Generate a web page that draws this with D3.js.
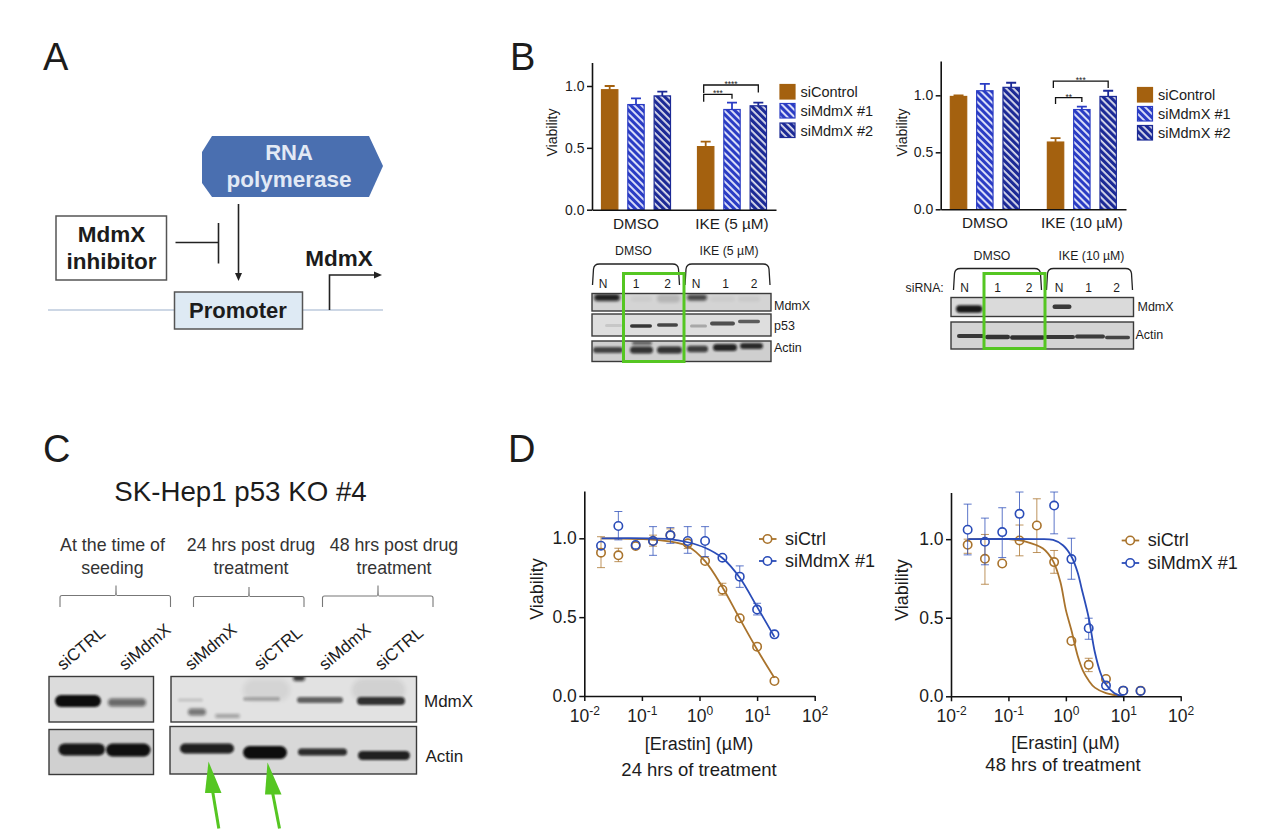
<!DOCTYPE html>
<html>
<head>
<meta charset="utf-8">
<script src="https://cdn.jsdelivr.net/npm/d3@7/dist/d3.min.js"></script>
<style>
html,body{margin:0;padding:0;background:#fff}
svg{display:block}
text{font-family:"Liberation Sans",Arial,sans-serif;fill:#1c1c1c}
</style>
</head>
<body>
<svg id="fig" width="1280" height="839"></svg>
<script>
// ---------- data: panel B bars ----------
const barGroups5 = ["DMSO", "IKE (5 µM)"];
const barGroups10 = ["DMSO", "IKE (10 µM)"];
const barSeries = ["siControl", "siMdmX #1", "siMdmX #2"];
const barTicks = [0, 0.5, 1];
const viab5Mean = [[0.97, 0.85, 0.92], [0.51, 0.81, 0.84]];
const viab5Top = [[1.0, 0.90, 0.955], [0.55, 0.865, 0.865]];
const viab10Mean = [[0.99, 1.04, 1.07], [0.59, 0.875, 0.99]];
const viab10Top = [[1.0, 1.10, 1.11], [0.625, 0.90, 1.04]];
const brackets5 = [["****", 2, 1.008], ["***", 1, 0.933]];
const brackets10 = [["***", 2, 1.125], ["**", 1, 0.98]];

// ---------- data: panel D dose response ----------
const doses = [0.0195, 0.039, 0.078, 0.156, 0.3125, 0.625, 1.25, 2.5, 5, 10, 20];
const doseTicks = [0.01, 0.1, 1, 10, 100];
const doseExp = ["-2", "-1", "0", "1", "2"];
const viabTicks = [0, 0.5, 1];
const d24Ctrl = [0.909, 0.892, 0.951, 0.983, 1.02, 0.968, 0.856, 0.674, 0.493, 0.313, 0.095];
const d24CtrlHi = [1.01, 0.937, 0.97, 1.02, 1.06, 1.0, 0.875, 0.715, 0.505, 0.325, 0.105];
const d24CtrlLo = [0.814, 0.852, 0.935, 0.95, 0.99, 0.935, 0.84, 0.64, 0.48, 0.3, 0.085];
const d24Mdm = [0.953, 1.078, 0.958, 0.983, 1.019, 0.983, 0.983, 0.877, 0.757, 0.548, 0.391];
const d24MdmHi = [0.975, 1.17, 0.98, 1.074, 1.068, 1.074, 1.074, 0.89, 0.825, 0.588, 0.405];
const d24MdmLo = [0.935, 0.99, 0.935, 0.892, 0.968, 0.905, 0.884, 0.865, 0.689, 0.514, 0.38];
const d24CtrlFitX = [0.02, 0.1, 0.3, 0.625, 1.25, 2.5, 5, 10, 20];
const d24CtrlFitY = [1.0, 0.995, 0.98, 0.95, 0.855, 0.69, 0.49, 0.295, 0.115];
const d24MdmFitX = [0.02, 0.3, 0.625, 1.25, 2.5, 5, 10, 20];
const d24MdmFitY = [1.0, 0.995, 0.975, 0.94, 0.875, 0.75, 0.565, 0.375];

const d48Ctrl = [0.964, 0.875, 0.845, 0.992, 1.087, 0.854, 0.352, 0.2, 0.11, 0.036, 0.036];
const d48CtrlHi = [1.0, 1.03, 0.86, 1.09, 1.257, 0.928, 0.365, 0.242, 0.125, 0.045, 0.045];
const d48CtrlLo = [0.91, 0.713, 0.83, 0.894, 0.915, 0.783, 0.34, 0.157, 0.095, 0.028, 0.028];
const d48Mdm = [1.06, 0.983, 1.045, 1.161, null, 1.214, 0.873, 0.433, 0.068, 0.036, 0.034];
const d48MdmHi = [1.223, 1.134, 1.2, 1.3, null, 1.3, 1.006, 0.497, 0.08, 0.045, 0.045];
const d48MdmLo = [0.9, 0.837, 0.883, 1.0, null, 1.034, 0.745, 0.363, 0.055, 0.028, 0.025];
const d48CtrlFitX = [0.02, 0.1, 0.2, 0.4, 0.6, 0.8, 1, 1.25, 1.6, 2, 2.5, 3.2, 5, 10];
const d48CtrlFitY = [1.0, 1.0, 0.985, 0.94, 0.86, 0.73, 0.55, 0.42, 0.26, 0.16, 0.10, 0.055, 0.02, 0];
const d48MdmFitX = [0.02, 0.3, 0.6, 0.9, 1.25, 1.6, 1.9, 2.5, 3.2, 4, 5, 7, 10];
const d48MdmFitY = [1.0, 1.0, 0.995, 0.96, 0.89, 0.79, 0.68, 0.5, 0.28, 0.15, 0.075, 0.02, 0];
const doseSeries = ["siCtrl", "siMdmX #1"];

// ---------- data: blot labels and band strengths ----------
const lanesB = ["N", "1", "2", "N", "1", "2"];
const lanesC = ["siCTRL", "siMdmX", "siMdmX", "siCTRL", "siMdmX", "siCTRL"];
const headersC = [["At the time of", "seeding"], ["24 hrs post drug", "treatment"], ["48 hrs post drug", "treatment"]];
const b5MdmX = [0.9, 0.04, 0.15, 0.72, 0.04, 0.05];
const b5P53 = [0.1, 0.8, 0.72, 0.25, 0.68, 0.62];
const b5Actin = [0.72, 0.8, 0.8, 0.75, 0.88, 0.85];
const b10MdmX = [0.95, 0.78];
const b10Actin = [0.78, 0.8, 0.82, 0.78, 0.76, 0.72];
const cMdmXLeft = [1, 0.55];
const cActinLeft = [0.95, 0.98];
const cMdmXRight = [0.14, 0.5, 0.3, 0.25, 0.6, 0.82];
const cActin = [0.9, 1, 0.85, 0.9];

// ---------- palette ----------
const BROWN = "#a4610f", BLUE = "#2a3cc4", NAVY = "#1c2a96";
const LBROWN = "#a9732c", LBLUE = "#2a4cb8", GREEN = "#55c622";
const svg = d3.select("#fig");
const defs = svg.append("defs");

function hatch(id, bg, fg, w) {
  const p = defs.append("pattern").attr("id", id).attr("patternUnits", "userSpaceOnUse")
    .attr("width", 5).attr("height", 5).attr("patternTransform", "rotate(-45)");
  p.append("rect").attr("width", 5).attr("height", 5).attr("fill", bg);
  p.append("rect").attr("width", w).attr("height", 5).attr("fill", fg);
}
hatch("h1", "#d8dcf8", "#2a3cc4", 3.0);
hatch("h2", "#dfe0ee", "#1c2a96", 3.2);
[["blurS", 1.0], ["blurM", 1.6], ["blurL", 2.8], ["soft", 0.7]].forEach(([id, s]) => {
  defs.append("filter").attr("id", id).attr("filterUnits", "userSpaceOnUse")
    .attr("x", 0).attr("y", 0).attr("width", 1280).attr("height", 839)
    .append("feGaussianBlur").attr("stdDeviation", s);
});

function label(g, x, y, txt, size, anchor, weight, fill) {
  const t = g.append("text").attr("x", x).attr("y", y).attr("font-size", size)
    .attr("text-anchor", anchor || "start").text(txt);
  if (weight) t.attr("font-weight", weight);
  if (fill) t.style("fill", fill);
  return t;
}
function vlabel(g, x, y, txt, size) {
  g.append("text").attr("transform", `translate(${x},${y}) rotate(-90)`).attr("font-size", size)
    .attr("text-anchor", "middle").text(txt);
}
const letters = [["A", 43, 70], ["B", 510, 70], ["C", 43, 462], ["D", 508, 462]];
letters.forEach(([t, x, y]) => label(svg, x, y, t, 38));

// ---------- Panel A ----------
const A = svg.append("g");
A.append("line").attr("x1", 48).attr("x2", 383).attr("y1", 310).attr("y2", 310).attr("stroke", "#bccadd").attr("stroke-width", 1.5);
A.append("polygon").attr("points", "202,152 212,136 369,136 383,166 369,197 212,197 202,183").attr("fill", "#4a6fb0");
label(A, 289, 160, "RNA", 22, "middle", "bold", "#e2e9f5");
label(A, 289, 187, "polymerase", 22.5, "middle", "bold", "#e2e9f5");
A.append("rect").attr("x", 56).attr("y", 216).attr("width", 110.5).attr("height", 64).attr("fill", "#fff").attr("stroke", "#555").attr("stroke-width", 1.5);
label(A, 111.5, 241.5, "MdmX", 22.5, "middle", "bold");
label(A, 111.5, 269, "inhibitor", 22.5, "middle", "bold");
A.append("path").attr("d", "M175.5,242.5H218.5M218.5,223V263.5").attr("fill", "none").attr("stroke", "#222").attr("stroke-width", 1.6);
A.append("path").attr("d", "M238.5,204V274").attr("stroke", "#222").attr("stroke-width", 1.6);
A.append("path").attr("d", "M235,273L242,273L238.5,281Z").attr("fill", "#222");
A.append("rect").attr("x", 174.5).attr("y", 292).attr("width", 128).attr("height", 37).attr("fill", "#deeaf4").attr("stroke", "#555").attr("stroke-width", 1.5);
label(A, 238, 318, "Promoter", 22, "middle", "bold");
A.append("path").attr("d", "M329.5,310V275H375").attr("fill", "none").attr("stroke", "#222").attr("stroke-width", 1.6);
A.append("path").attr("d", "M374,271.5L382,275L374,278.5Z").attr("fill", "#222");
label(A, 339, 266, "MdmX", 22.5, "middle", "bold");

// ---------- Panel B bars ----------
function barChart(cfg) {
  const g = svg.append("g");
  const y = d3.scaleLinear().domain([0, cfg.top]).range([cfg.y0, cfg.yTop]);
  const x0 = d3.scaleBand().domain(cfg.groups).range([cfg.xL, cfg.xR]).paddingInner(0.2).paddingOuter(cfg.pad);
  const x1 = d3.scaleBand().domain(barSeries).range([-35, 35]).paddingInner(0.34);
  const fills = [BROWN, "url(#h1)", "url(#h2)"], strokes = [BROWN, BLUE, NAVY];
  cfg.groups.forEach((grp, gi) => {
    const cx = x0(grp) + x0.bandwidth() / 2;
    barSeries.forEach((s, si) => {
      const bx = cx + x1(s), bc = bx + x1.bandwidth() / 2;
      const v = cfg.mean[gi][si], t = cfg.tops[gi][si];
      g.append("path").attr("d", `M${bc - 5},${y(t)}H${bc + 5}M${bc},${y(t)}V${y(v)}`)
        .attr("fill", "none").attr("stroke", strokes[si]).attr("stroke-width", 1.8);
      g.append("rect").attr("x", bx + 0.5).attr("y", y(v)).attr("width", x1.bandwidth() - 1).attr("height", y(0) - y(v))
        .attr("fill", fills[si]).attr("stroke", strokes[si]).attr("stroke-width", 1.2);
    });
  });
  // significance brackets
  const grp = cfg.groups[1], cx = x0(grp) + x0.bandwidth() / 2;
  const c = i => cx + x1(barSeries[i]) + x1.bandwidth() / 2;
  cfg.brackets.forEach(([stars, to, lvl], i) => {
    const yy = y(lvl), xa = c(0) - cfg.bOff[i], xb = c(to);
    g.append("path").attr("d", `M${xa},${yy + cfg.dropL[i]}V${yy}H${xb}V${yy + cfg.dropR[i]}`)
      .attr("fill", "none").attr("stroke", "#111").attr("stroke-width", 1.3);
    label(g, (xa + xb) / 2, yy + 2, stars, 8.5, "middle");
  });
  // axes
  const ay = d3.axisLeft(y).tickValues(barTicks).tickFormat(d3.format(".1f")).tickSize(5).tickSizeOuter(0).tickPadding(2.5);
  const gy = g.append("g").attr("transform", `translate(${cfg.xL},0)`).call(ay);
  gy.selectAll("text").attr("font-size", 14).style("font-family", '"Liberation Sans"');
  const ax = d3.axisBottom(x0).tickSize(0).tickSizeOuter(0).tickPadding(8);
  const gx = g.append("g").attr("transform", `translate(0,${cfg.y0})`).call(ax);
  gx.selectAll("text").attr("font-size", 15.3).style("font-family", '"Liberation Sans"');
  g.selectAll(".domain").attr("stroke", "#111").attr("stroke-width", 1.6);
  g.selectAll(".tick line").attr("stroke", "#111").attr("stroke-width", 1.5);
  vlabel(g, cfg.labX, 132.5, "Viability", 14);
  // legend
  barSeries.forEach((s, i) => {
    const ly = cfg.legY[i];
    g.append("rect").attr("x", cfg.legX).attr("y", ly).attr("width", 15).attr("height", 14.5)
      .attr("fill", fills[i]).attr("stroke", strokes[i]).attr("stroke-width", 1.2);
    label(g, cfg.legX + 20.5, ly + 12.5, s, 14.5);
  });
}
barChart({groups: barGroups5, mean: viab5Mean, tops: viab5Top, brackets: brackets5, top: 1.19, y0: 209.7, yTop: 62.5,
  xL: 592, xR: 776, pad: 0.0583, labX: 557, legX: 780, legY: [84.5, 103.5, 123],
  bOff: [2, 2], dropL: [8, 7.5], dropR: [7.5, 4.5]});
barChart({groups: barGroups10, mean: viab10Mean, tops: viab10Top, brackets: brackets10, top: 1.301, y0: 209.3, yTop: 61,
  xL: 940.7, xR: 1126, pad: 0.055, labX: 906.5, legX: 1137.5, legY: [87.5, 106.5, 125.5],
  bOff: [2.2, 0], dropL: [7, 6.5], dropR: [7, 4.5]});

// ---------- blots ----------
let clipN = 0;
function panel(x, y, w, h, shade, edge) {
  const id = "cp" + (clipN++);
  defs.append("clipPath").attr("id", id).append("rect").attr("x", x).attr("y", y).attr("width", w).attr("height", h);
  const o = svg.append("g");
  o.append("rect").attr("x", x).attr("y", y).attr("width", w).attr("height", h).attr("fill", shade);
  const inner = o.append("g").attr("clip-path", `url(#${id})`);
  o.append("rect").attr("x", x).attr("y", y).attr("width", w).attr("height", h).attr("fill", "none")
    .attr("stroke", edge || "#3a3a3a").attr("stroke-width", 1.4);
  return inner;
}
function band(p, x0, x1, cy, h, s, blur) {
  p.append("rect").attr("x", x0).attr("y", cy - h / 2).attr("width", x1 - x0).attr("height", h)
    .attr("rx", Math.min(h / 2, (x1 - x0) / 2)).attr("fill", "#0c0c0c").attr("opacity", s)
    .attr("filter", `url(#${blur || "blurS"})`);
}
function curly(g, xa, xb, top, bot) {
  g.append("path").attr("d", `M${xa},${bot}L${xa + 1},${top + 5}Q${xa + 1.5},${top} ${xa + 7},${top}L${xb - 7},${top}Q${xb - 1.5},${top} ${xb - 1},${top + 5}L${xb},${bot}`)
    .attr("fill", "none").attr("stroke", "#222").attr("stroke-width", 1.3);
}

// B left blot
{
  const m = panel(592, 293.5, 179, 17.5, "#d4d4d4");
  [[594, 620, 297.5, 7], [631, 652, 299, 5], [657, 680, 298.5, 8], [687, 707, 297.5, 6], [710, 735, 299, 5], [738, 760, 299, 5]]
    .forEach((b, i) => band(m, b[0], b[1], b[2], b[3], b5MdmX[i], "blurM"));
  const p = panel(592, 314, 179, 22, "#dedede");
  [[605, 622, 325.5, 3], [630, 652, 326, 3.5], [657, 678, 325, 3.5], [690, 707, 326, 3], [710, 735, 323.5, 4], [738, 760, 321.5, 3.5]]
    .forEach((b, i) => band(p, b[0], b[1], b[2], b[3], b5P53[i], "soft"));
  const a = panel(592, 341, 179, 20.5, "#cfcfcf");
  [[593, 623, 350, 6], [630, 653, 350, 7], [657, 682, 350, 7], [687, 708, 349, 6.5], [713, 737, 347.5, 7], [740, 763, 346, 6]]
    .forEach((b, i) => band(a, b[0], b[1], b[2], b[3], b5Actin[i]));
  band(a, 632, 652, 343, 4, 0.55);
  const g = svg.append("g");
  curly(g, 592.5, 679.5, 264, 285); curly(g, 685, 770, 264, 285);
  label(g, 633.5, 255, barGroups5[0], 12.3, "middle"); label(g, 729, 255, barGroups5[1], 12.3, "middle");
  const lx = d3.scaleOrdinal().domain(d3.range(6)).range([603, 636, 667.5, 696, 725.5, 754]);
  lanesB.forEach((t, i) => label(g, lx(i), 287.5, t, 12, "middle"));
  label(g, 774, 309.5, "MdmX", 12.5); label(g, 774, 330, "p53", 12.5); label(g, 774, 352, "Actin", 12.5);
  g.append("rect").attr("x", 623.5).attr("y", 273.5).attr("width", 60.5).attr("height", 88).attr("fill", "none").attr("stroke", GREEN).attr("stroke-width", 3);
}
// B right blot
{
  const m = panel(951, 297.5, 182.5, 19, "#dadada");
  band(m, 956, 982.5, 309, 7.5, b10MdmX[0]); band(m, 1052.5, 1071.5, 306.8, 4.5, b10MdmX[1], "soft");
  const a = panel(951, 322, 182.5, 27, "#d4d4d4");
  [[957, 985, 336, 4], [985, 1010, 337, 4.5], [1010, 1045, 337.5, 4.5], [1045, 1075, 337, 4], [1075, 1105, 336.5, 4], [1105, 1130, 337.5, 3.5]]
    .forEach((b, i) => band(a, b[0], b[1], b[2], b[3], b10Actin[i], "soft"));
  const g = svg.append("g");
  curly(g, 953.5, 1041.5, 268.5, 290); curly(g, 1046.5, 1132.5, 268.5, 290);
  label(g, 992, 260, barGroups10[0], 12.3, "middle"); label(g, 1091.5, 260, barGroups10[1], 12.3, "middle");
  label(g, 905.5, 291.5, "siRNA:", 12.3);
  const lx = d3.scaleOrdinal().domain(d3.range(6)).range([964.5, 997.5, 1029, 1059, 1088.5, 1116.5]);
  lanesB.forEach((t, i) => label(g, lx(i), 291.5, t, 12, "middle"));
  label(g, 1137.5, 310.5, "MdmX", 12.5); label(g, 1135.5, 339, "Actin", 12.5);
  g.append("rect").attr("x", 984).attr("y", 273.5).attr("width", 61).attr("height", 75).attr("fill", "none").attr("stroke", GREEN).attr("stroke-width", 3);
}
// C blots
{
  label(svg, 240.5, 501, "SK-Hep1 p53 KO #4", 27.7, "middle");
  const hx = [112.5, 251, 394];
  headersC.forEach((ls, i) => {
    label(svg, hx[i], 551, ls[0], 17.8, "middle", null, "#333");
    label(svg, hx[i], 573.5, ls[1], 17.8, "middle", null, "#333");
  });
  [[60, 170.5, 116, 595.5, 585.5], [193.5, 304, 249, 596.5, 587], [322.5, 433, 378, 596, 585.5]].forEach(([a, b, s, yy, t]) => {
    svg.append("path").attr("d", `M${a},607V${yy + 2}Q${a},${yy} ${a + 2},${yy}H${s - 1}Q${s},${yy} ${s},${t}Q${s},${yy} ${s + 1},${yy}H${b - 2}Q${b},${yy} ${b},${yy + 2}V607`)
      .attr("fill", "none").attr("stroke", "#777").attr("stroke-width", 1.1);
  });
  const tx = [63, 125, 191, 260, 325, 381];
  lanesC.forEach((t, i) => {
    svg.append("text").attr("transform", `translate(${tx[i]},671) rotate(-40)`).attr("font-size", 17).text(t);
  });
  const m1 = panel(49, 676.5, 104.5, 45.5, "#dcdcdc");
  band(m1, 55, 101, 701, 12, cMdmXLeft[0]); band(m1, 108, 146, 702.5, 8, cMdmXLeft[1], "blurM");
  const a1 = panel(49, 729.5, 104.5, 45, "#d0d0d0");
  band(a1, 58.5, 105, 749.5, 12, cActinLeft[0]); band(a1, 106, 150.5, 750, 13, cActinLeft[1]);
  const m2 = panel(171, 676.5, 245.5, 45.5, "#e2e2e2");
  band(m2, 178, 203, 700, 3, cMdmXRight[0]);
  band(m2, 188, 206, 712, 7, cMdmXRight[1], "blurM"); band(m2, 215, 240, 716, 4, cMdmXRight[2], "blurM");
  band(m2, 243, 280, 699, 4, cMdmXRight[3]); band(m2, 297, 343, 700, 6, cMdmXRight[4]); band(m2, 357, 405, 701, 8, cMdmXRight[5]);
  band(m2, 293, 305, 678, 6, 0.8, "blurM");
  band(m2, 243, 290, 690, 22, 0.06, "blurL"); band(m2, 352, 405, 690, 22, 0.08, "blurL");
  const a2 = panel(170, 726.5, 246.5, 47.5, "#d8d8d8");
  band(a2, 180, 234, 748.5, 10, cActin[0]); band(a2, 243, 287, 752.5, 13, cActin[1]);
  band(a2, 298, 347, 752, 7, cActin[2]); band(a2, 358, 410, 755.5, 9, cActin[3]);
  label(svg, 424, 706.5, "MdmX", 17); label(svg, 425.5, 761.5, "Actin", 17);
  [[208.5, 761.5, 205, 221.5, 793, 218.8, 828.5], [267.5, 762.5, 265, 281.5, 794.5, 279.5, 828.5]].forEach(([tx2, ty, bl, br, by, ex, ey]) => {
    svg.append("polygon").attr("points", `${tx2},${ty} ${bl},${by} ${br},${by}`).attr("fill", GREEN);
    svg.append("line").attr("x1", (bl + br) / 2 - 0.5).attr("y1", by - 1).attr("x2", ex).attr("y2", ey).attr("stroke", GREEN).attr("stroke-width", 3);
  });
}

// ---------- Panel D ----------
function doseChart(cfg) {
  const g = svg.append("g");
  const x = d3.scaleLog().domain([0.01, 100]).range([cfg.xL, cfg.xR]);
  const y = d3.scaleLinear().domain([0, cfg.top]).range([cfg.y0, cfg.yTop]);
  const line = d3.line().x(d => x(d[0])).y(d => y(d[1])).curve(d3.curveCatmullRom.alpha(0.5));
  const dd = [
    {c: LBROWN, m: cfg.ctrl, hi: cfg.ctrlHi, lo: cfg.ctrlLo, fx: cfg.ctrlFx, fy: cfg.ctrlFy},
    {c: LBLUE, m: cfg.mdm, hi: cfg.mdmHi, lo: cfg.mdmLo, fx: cfg.mdmFx, fy: cfg.mdmFy}];
  const R = 4.2;
  dd.forEach(s => {
    g.append("path").attr("d", line(d3.zip(s.fx, s.fy))).attr("fill", "none").attr("stroke", s.c).attr("stroke-width", 1.8);
    doses.forEach((dose, i) => {
      if (s.m[i] == null) return;
      const px = x(dose), yh = y(s.hi[i]), yl = y(s.lo[i]), ym = y(s.m[i]);
      // error whiskers hidden inside the open marker are not seen in the figure
      if (ym - yh > R + 1) g.append("path").attr("d", `M${px - 4},${yh}H${px + 4}M${px},${yh}V${ym - R}`)
        .attr("fill", "none").attr("stroke", s.c).attr("stroke-width", 0.9).attr("opacity", 0.85);
      if (yl - ym > R + 1) g.append("path").attr("d", `M${px},${ym + R}V${yl}M${px - 4},${yl}H${px + 4}`)
        .attr("fill", "none").attr("stroke", s.c).attr("stroke-width", 0.9).attr("opacity", 0.85);
      g.append("circle").attr("cx", px).attr("cy", ym).attr("r", R)
        .attr("fill", "none").attr("stroke", s.c).attr("stroke-width", 1.6);
    });
  });
  const ay = d3.axisLeft(y).tickValues(viabTicks).tickFormat(d3.format(".1f")).tickSize(5).tickSizeOuter(0).tickPadding(2.5);
  const gy = g.append("g").attr("transform", `translate(${cfg.xL},0)`).call(ay);
  gy.selectAll("text").attr("font-size", 17.5).style("font-family", '"Liberation Sans"');
  const ax = d3.axisBottom(x).tickValues(doseTicks).tickSize(5).tickSizeOuter(0).tickPadding(7).tickFormat(() => "");
  const gx = g.append("g").attr("transform", `translate(0,${cfg.y0})`).call(ax);
  gx.selectAll(".tick text").attr("font-size", 17.5).style("font-family", '"Liberation Sans"')
    .each(function (d, i) {
      const t = d3.select(this).text("10").attr("y", 13.5);
      t.append("tspan").attr("font-size", 12).attr("dy", -7).text(doseExp[i]);
    });
  g.selectAll(".domain").attr("stroke", "#111").attr("stroke-width", 1.6);
  g.selectAll(".tick line").attr("stroke", "#111").attr("stroke-width", 1.5);
  vlabel(g, cfg.labX, cfg.labY, "Viability", 18);
  label(g, cfg.xc, cfg.y1, "[Erastin] (µM)", 18, "middle");
  label(g, cfg.xc2, cfg.y2, cfg.note, 18.5, "middle");
  doseSeries.forEach((s, i) => {
    const ly = cfg.legY[i], c = dd[i].c;
    g.append("line").attr("x1", cfg.legX).attr("x2", cfg.legX + 17.5).attr("y1", ly).attr("y2", ly).attr("stroke", c).attr("stroke-width", 1.8);
    g.append("circle").attr("cx", cfg.legX + 8.5).attr("cy", ly).attr("r", R).attr("fill", "#fff").attr("stroke", c).attr("stroke-width", 1.6);
    label(g, cfg.legX + 26, ly + 5.5, s, 18);
  });
}
doseChart({ctrl: d24Ctrl, ctrlHi: d24CtrlHi, ctrlLo: d24CtrlLo, ctrlFx: d24CtrlFitX, ctrlFy: d24CtrlFitY,
  mdm: d24Mdm, mdmHi: d24MdmHi, mdmLo: d24MdmLo, mdmFx: d24MdmFitX, mdmFy: d24MdmFitY,
  xL: 584.3, xR: 814.7, y0: 696, yTop: 491, top: 1.3, labX: 542.5, labY: 589, xc: 699, y1: 749.5, xc2: 699, y2: 776,
  note: "24 hrs of treatment", legX: 759, legY: [539, 561]});
doseChart({ctrl: d48Ctrl, ctrlHi: d48CtrlHi, ctrlLo: d48CtrlLo, ctrlFx: d48CtrlFitX, ctrlFy: d48CtrlFitY,
  mdm: d48Mdm, mdmHi: d48MdmHi, mdmLo: d48MdmLo, mdmFx: d48MdmFitX, mdmFy: d48MdmFitY,
  xL: 951, xR: 1180.7, y0: 696.3, yTop: 492.5, top: 1.297, labX: 908, labY: 590, xc: 1065.5, y1: 748.5, xc2: 1063, y2: 771,
  note: "48 hrs of treatment", legX: 1121.7, legY: [540.5, 563]});
</script>
</body>
</html>
